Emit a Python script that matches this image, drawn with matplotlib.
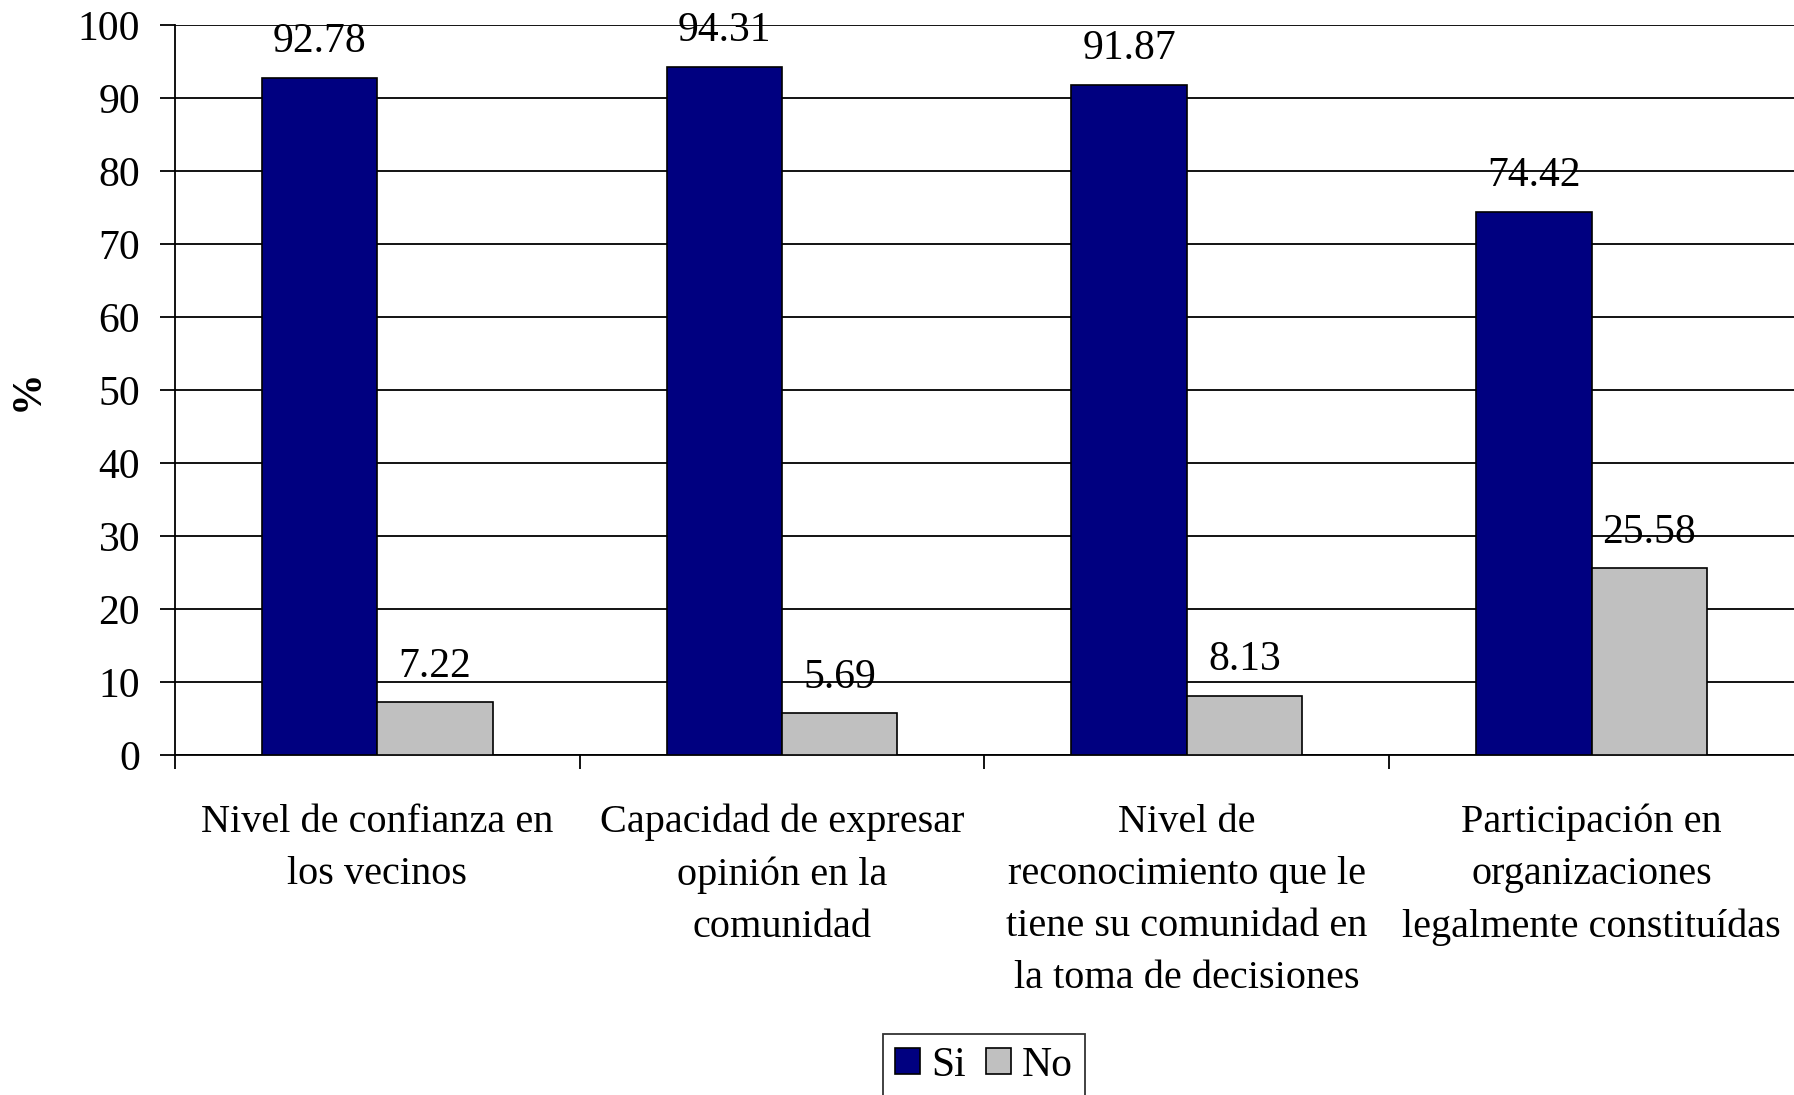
import numpy as np
import matplotlib.pyplot as plt

# === DATA ===
categories = [
    "Nivel de confianza en\nlos vecinos",
    "Capacidad de expresar\nopinión en la\ncomunidad",
    "Nivel de\nreconocimiento que le\ntiene su comunidad en\nla toma de decisiones",
    "Participación en\norganizaciones\nlegalmente constituídas",
]
si_values = [92.78, 94.31, 91.87, 74.42]
no_values = [7.22, 5.69, 8.13, 25.58]
series_names = ["Si", "No"]

plt.rcParams["font.family"] = ["Liberation Serif", "DejaVu Serif"]
FS = 30

fig = plt.figure(figsize=(17.94, 10.95), dpi=100)
ax = fig.add_axes([0.0975, 0.3105, 0.9025, 0.6665])

x = np.arange(len(categories))
w = 0.285
b1 = ax.bar(x - w / 2, si_values, w, color="#000080", edgecolor="black", linewidth=1.2,
            label=series_names[0], zorder=3)
b2 = ax.bar(x + w / 2, no_values, w, color="#C0C0C0", edgecolor="black", linewidth=1.2,
            label=series_names[1], zorder=3)

# value labels above each bar
for bars in (b1, b2):
    for rect in bars:
        h = rect.get_height()
        ax.text(rect.get_x() + rect.get_width() / 2, h + 2.3, f"{h:.2f}",
                ha="center", va="bottom", fontsize=FS, zorder=4)

ax.set_xlim(-0.5, 3.5)
ax.set_ylim(0, 100)
ax.set_yticks(range(0, 101, 10))
ax.yaxis.grid(True, color="black", linewidth=1.3, zorder=0)
ax.set_axisbelow(True)

ax.set_xticks(x)
ax.set_xticklabels(categories, fontsize=29, linespacing=1.54)
ax.tick_params(axis="x", which="major", length=0, pad=35)
ax.set_xticks(np.arange(-0.5, 3.5, 1), minor=True)
ax.tick_params(axis="x", which="minor", length=10, width=1.3, color="black")
ax.tick_params(axis="y", length=11, width=1.3, labelsize=FS, pad=14)

for s in ("top", "right"):
    ax.spines[s].set_visible(False)
for s in ("left", "bottom"):
    ax.spines[s].set_linewidth(1.3)

ax.set_ylabel("%", fontsize=FS, fontweight="bold", labelpad=22)

leg = ax.legend(loc="upper center", bbox_to_anchor=(0.5485, 0.056),
                bbox_transform=fig.transFigure, ncol=2, fontsize=FS,
                frameon=True, fancybox=False, edgecolor="black", handlelength=0.6,
                handleheight=0.6, handletextpad=0.25, columnspacing=0.5,
                borderpad=0.3, borderaxespad=0)
leg.get_frame().set_linewidth(1.3)

fig.savefig("out.png", dpi=100)
